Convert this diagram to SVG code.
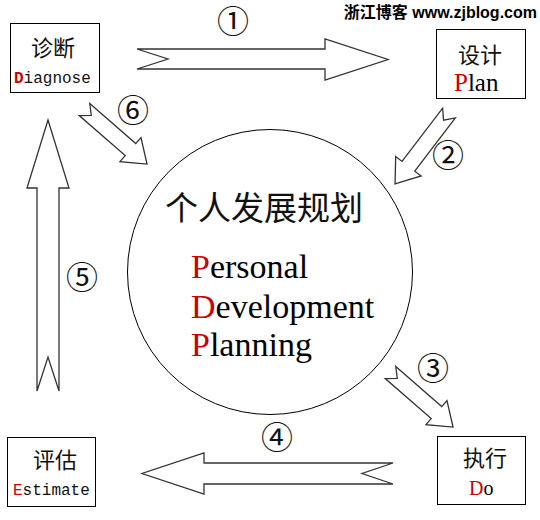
<svg xmlns="http://www.w3.org/2000/svg" width="540" height="520" viewBox="0 0 540 520">
<style>
.box{fill:#fff;stroke:#000;stroke-width:1}
.cjk{font-family:"Noto Sans CJK SC","Noto Sans CJK JP",sans-serif;fill:#111}
.mono{font-family:"Liberation Mono","DejaVu Sans Mono",monospace;fill:#111}
.serif{font-family:"Liberation Serif","Times New Roman",serif;fill:#000}
.red{fill:#cc0000}
.arrow{fill:#fff;stroke:#333;stroke-width:1.3;stroke-linejoin:miter}
.num{font-family:"Noto Sans CJK SC","DejaVu Sans",sans-serif;font-size:32px;fill:#111;text-anchor:middle}
</style>
<rect width="540" height="520" fill="#fff"/>
<text x="537" y="18" text-anchor="end" style="font-family:'Liberation Sans','Noto Sans CJK SC',sans-serif;font-weight:bold;font-size:16px" fill="#000">浙江博客 www.zjblog.com</text>

<g id="connectors">
  <polygon class="arrow" points="137,49 325,49 325,39 388,59.5 325,80 325,69 137,69 168,59"/>
  <polygon class="arrow" transform="translate(449,113) rotate(127.3)" points="0,-8 67,-8 67,-16 89,0 67,16 67,8 0,8 9,0"/>
  <polygon class="arrow" transform="translate(390.5,372.5) rotate(41.1)" points="0,-8 61,-8 61,-16 83,0 61,16 61,8 0,8 9,0"/>
  <polygon class="arrow" points="393,463 204,463 204,453 142,473.5 204,494 204,484 393,484 362,473.5"/>
  <polygon class="arrow" points="37,391 37,188 27,188 48,120 69,188 59,188 59,391 48,357"/>
  <polygon class="arrow" transform="translate(84.5,109.5) rotate(41.1)" points="0,-8 61,-8 61,-16 83,0 61,16 61,8 0,8 9,0"/>
  <text class="num" x="233" y="33">①</text>
  <text class="num" x="448" y="167">②</text>
  <text class="num" x="433" y="380">③</text>
  <text class="num" x="277" y="449">④</text>
  <text class="num" x="82" y="289">⑤</text>
  <text class="num" x="133" y="122">⑥</text>
</g>

<g id="node-diagnose">
  <rect class="box" x="10.5" y="23.5" width="89" height="69"/>
  <text class="cjk" x="53" y="56" font-size="22" text-anchor="middle">诊断</text>
  <text class="mono" x="14" y="83" font-size="16"><tspan class="red" font-weight="bold">D</tspan>iagnose</text>
</g>

<g id="node-plan">
  <rect class="box" x="436.5" y="29.5" width="89" height="69"/>
  <text class="cjk" x="480" y="63" font-size="22" text-anchor="middle">设计</text>
  <text class="serif" x="454" y="91" font-size="25"><tspan class="red">P</tspan>lan</text>
</g>

<g id="node-do">
  <rect class="box" x="437.5" y="436.5" width="88" height="68"/>
  <text class="cjk" x="485" y="466" font-size="22" text-anchor="middle">执行</text>
  <text class="serif" x="469" y="495" font-size="20"><tspan class="red">D</tspan>o</text>
</g>

<g id="node-estimate">
  <rect class="box" x="7.5" y="437.5" width="88" height="69"/>
  <text class="cjk" x="55" y="468" font-size="22" text-anchor="middle">评估</text>
  <text class="mono" x="13" y="495" font-size="16"><tspan class="red">E</tspan>stimate</text>
</g>

<g id="node-pdp">
  <circle cx="270" cy="272" r="142.5" fill="none" stroke="#000" stroke-width="1"/>
  <text class="cjk" x="264" y="220" font-size="33" text-anchor="middle">个人发展规划</text>
  <text class="serif" x="191" y="278" font-size="34"><tspan class="red">P</tspan>ersonal</text>
  <text class="serif" x="191" y="318" font-size="34"><tspan class="red">D</tspan>evelopment</text>
  <text class="serif" x="191" y="356" font-size="34"><tspan class="red">P</tspan>lanning</text>
</g>
</svg>
